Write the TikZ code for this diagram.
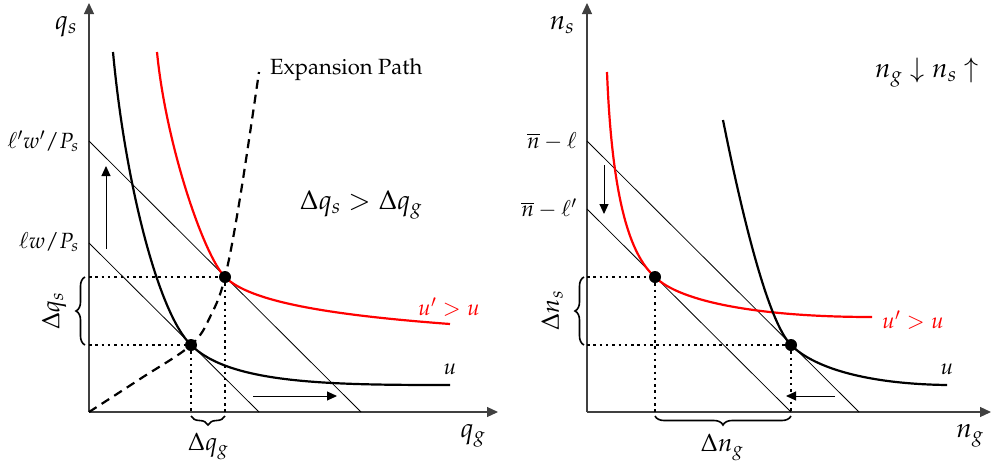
\documentclass[tikz,border=0pt]{standalone}
\usepackage[T1]{fontenc}
\usepackage{mathpazo}
\usetikzlibrary{arrows.meta,decorations.pathreplacing}
\begin{document}
\begin{tikzpicture}[x=1pt,y=-1pt,
  axis/.style={line width=1.2pt, black!75, -{Triangle[length=11pt,width=10pt]}},
  budget/.style={line width=0.8pt},
  indiff/.style={line width=2.2pt},
  pref/.style={line width=2.2pt, red},
  guide/.style={line width=2.5pt, dash pattern=on 2.5pt off 3.8pt},
  xpath/.style={line width=2.2pt, dash pattern=on 9pt off 6pt},
  shift arrow/.style={line width=1pt, -{Triangle[length=10pt,width=9pt]}},
  dot/.style={circle, fill=black, inner sep=0pt, minimum size=12pt},
  brc/.style={decorate, decoration={brace, amplitude=9pt}, line width=1.6pt},
  small/.style={font=\fontsize{22}{26}\selectfont, inner sep=0pt},
  mid/.style={font=\fontsize{25}{30}\selectfont, inner sep=0pt},
  big/.style={font=\fontsize{27}{32}\selectfont, inner sep=0pt}
]
\useasboundingbox (0,0) rectangle (992,463);

% ===================== LEFT PANEL =====================
\coordinate (O1) at (89,412);
\coordinate (Y1) at (89,3);
\coordinate (X1) at (498,412);
\draw[axis] (O1) -- (Y1);
\draw[axis] (O1) -- (X1);
\node[big] (qs) at (66,27) {$q_s$};
\node[big] (qg) at (473,436) {$q_g$};

% budget lines
\coordinate (B1a) at (89,141);
\coordinate (B1b) at (361,412);
\coordinate (B0a) at (89,243);
\coordinate (B0b) at (259,412);
\draw[budget] (B1a) -- (B1b);
\draw[budget] (B0a) -- (B0b);
\node[small, anchor=east] (l1) at (79,141) {$\ell' w'/P_s$};
\node[small, anchor=east] (l0) at (79,242) {$\ell w/P_s$};

% tangency points
\coordinate (E0) at (191,345);
\coordinate (E1) at (225,277);

% guides
\coordinate (E0y) at (89,345);
\coordinate (E1y) at (89,277);
\coordinate (E0x) at (191,412);
\coordinate (E1x) at (225,412);
\draw[guide] (E1y) -- (E1);
\draw[guide] (E0y) -- (E0);
\draw[guide] (E0) -- (E0x);
\draw[guide] (E1) -- (E1x);

% indifference curves
\draw[indiff] (113,52) .. controls (125,182) and (158,313) .. (E0)
   .. controls (230,384) and (330,385) .. (450,385);
\draw[pref] (157,52) .. controls (166,145) and (204,256) .. (E1)
   .. controls (250,302) and (330,315) .. (450,324);
\node[small] (u0) at (450,369) {$u$};
\node[small, red] (u1) at (449,307) {$u' > u$};

% expansion path
\draw[xpath] plot[smooth, tension=0.6] coordinates {(89,412) (140,379) (191,345) (211,315) (225,277) (240,198) (259,72)};
\node[small, anchor=west] (ep) at (270,70) {Expansion Path};

% dots
\node[dot] (d0) at (E0) {};
\node[dot] (d1) at (E1) {};

% shift arrows
\coordinate (ua) at (106,249);
\coordinate (ub) at (106,166);
\draw[shift arrow] (ua) -- (ub);
\coordinate (ra) at (253,396);
\coordinate (rb) at (337,396);
\draw[shift arrow] (ra) -- (rb);

% braces
\coordinate (bs0) at (85,345);
\coordinate (bs1) at (85,277);
\draw[brc] (bs0) -- (bs1);
\node[mid, rotate=90] (dqs) at (54,311) {$\Delta q_s$};
\coordinate (bg0) at (225,416);
\coordinate (bg1) at (191,416);
\draw[brc] (bg0) -- (bg1);
\node[mid] (dqg) at (208,446) {$\Delta q_g$};

\node[big] (cmp) at (361,205) {$\Delta q_s > \Delta q_g$};

% ===================== RIGHT PANEL =====================
\coordinate (O2) at (587,412);
\coordinate (Y2) at (587,3);
\coordinate (X2) at (991,412);
\draw[axis] (O2) -- (Y2);
\draw[axis] (O2) -- (X2);
\node[big] (ns) at (562,25) {$n_s$};
\node[big] (ng) at (970,436) {$n_g$};

\coordinate (C1a) at (587,141);
\coordinate (C1b) at (859,412);
\coordinate (C0a) at (587,209);
\coordinate (C0b) at (791,412);
\draw[budget] (C1a) -- (C1b);
\draw[budget] (C0a) -- (C0b);
\node[small, anchor=east] (m1) at (577,141) {$\overline{n} - \ell$};
\node[small, anchor=east] (m0) at (577,209) {$\overline{n} - \ell'$};

\coordinate (F1) at (655,277);
\coordinate (F0) at (791,345);
\coordinate (F1y) at (587,277);
\coordinate (F0y) at (587,345);
\coordinate (F1x) at (655,412);
\coordinate (F0x) at (791,412);
\draw[guide] (F1y) -- (F1);
\draw[guide] (F0y) -- (F0);
\draw[guide] (F1) -- (F1x);
\draw[guide] (F0) -- (F0x);

\draw[pref] (607,72) .. controls (612,200) and (630,255) .. (F1)
   .. controls (680,302) and (760,317) .. (872,317);
\draw[indiff] (723,120) .. controls (742,215) and (768,322) .. (F0)
   .. controls (815,369) and (870,384) .. (947,385);
\node[small, red] (v1) at (913,320) {$u' > u$};
\node[small] (v0) at (947,369) {$u$};

\node[dot] (f1) at (F1) {};
\node[dot] (f0) at (F0) {};

\coordinate (da) at (604,165);
\coordinate (db) at (604,214);
\draw[shift arrow] (da) -- (db);
\coordinate (la) at (835,396);
\coordinate (lb) at (786,396);
\draw[shift arrow] (la) -- (lb);

\coordinate (cs0) at (584,345);
\coordinate (cs1) at (584,277);
\draw[brc] (cs0) -- (cs1);
\node[mid, rotate=90] (dns) at (552,311) {$\Delta n_s$};
\coordinate (cg0) at (791,416);
\coordinate (cg1) at (655,416);
\draw[brc] (cg0) -- (cg1);
\node[mid] (dng) at (722,447) {$\Delta n_g$};

\node[big] (arrows) at (927,73) {$n_g \downarrow n_s \uparrow$};
\end{tikzpicture}
\end{document}
